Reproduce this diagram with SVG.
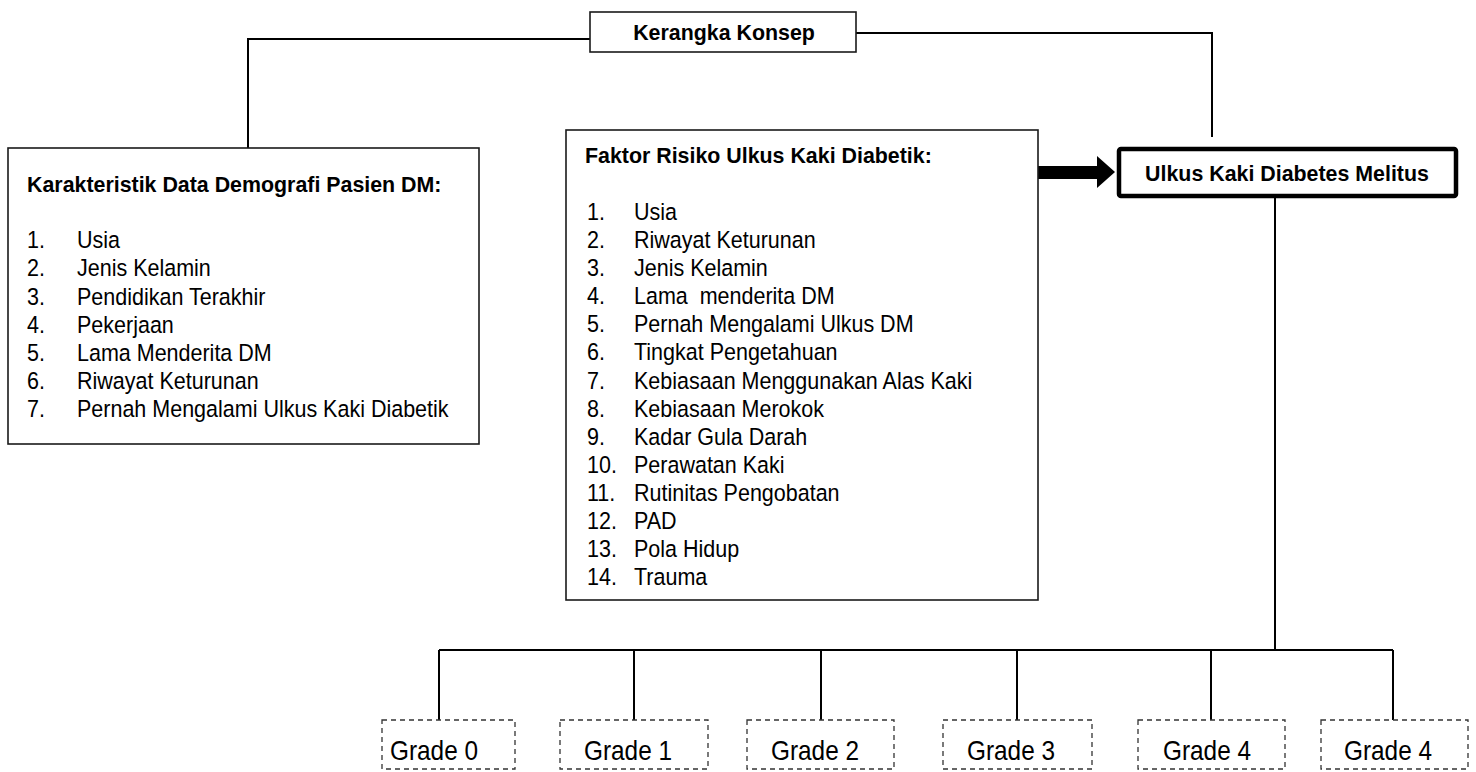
<svg xmlns="http://www.w3.org/2000/svg" width="1476" height="772" viewBox="0 0 1476 772">
<style>
text{font-family:"Liberation Sans",Arial,sans-serif;fill:#000}
.t{font-size:23px;font-weight:bold}
.i{font-size:23.5px}
.g{font-size:28px}
.box{fill:#fff;stroke:#1a1a1a;stroke-width:1.6}
.dash{fill:#fff;stroke:#333;stroke-width:1.3;stroke-dasharray:5 4}
.ln{fill:none;stroke:#000;stroke-width:2}
</style>
<rect width="1476" height="772" fill="#fff"/>
<g id="connectors">
<polyline class="ln" points="590,39 248,39 248,148"/>
<polyline class="ln" points="856,33 1212,33 1212,137"/>
<line class="ln" x1="1275" y1="198" x2="1275" y2="650"/>
<line class="ln" x1="439" y1="650" x2="1393" y2="650"/>
<line class="ln" x1="439" y1="650" x2="439" y2="720"/>
<line class="ln" x1="634" y1="650" x2="634" y2="720"/>
<line class="ln" x1="821" y1="650" x2="821" y2="720"/>
<line class="ln" x1="1017" y1="650" x2="1017" y2="720"/>
<line class="ln" x1="1211" y1="650" x2="1211" y2="720"/>
<line class="ln" x1="1393" y1="650" x2="1393" y2="720"/>
<polygon points="1038,166 1097,166 1097,156 1115,172 1097,188 1097,179 1038,179" fill="#000"/>
</g>
<g id="kerangka">
<rect class="box" x="590" y="12" width="266" height="40"/>
<text class="t" transform="translate(724,40) scale(0.93,1)" text-anchor="middle">Kerangka Konsep</text>
</g>
<g id="karakteristik">
<rect class="box" x="8" y="148" width="471" height="296"/>
<text class="t" transform="translate(27,192) scale(0.93,1)">Karakteristik Data Demografi Pasien DM:</text>
<g class="i">
<text transform="translate(27,248) scale(0.915,1)">1.</text><text transform="translate(77,248) scale(0.915,1)">Usia</text>
<text transform="translate(27,276) scale(0.915,1)">2.</text><text transform="translate(77,276) scale(0.915,1)">Jenis Kelamin</text>
<text transform="translate(27,305) scale(0.915,1)">3.</text><text transform="translate(77,305) scale(0.915,1)">Pendidikan Terakhir</text>
<text transform="translate(27,333) scale(0.915,1)">4.</text><text transform="translate(77,333) scale(0.915,1)">Pekerjaan</text>
<text transform="translate(27,361) scale(0.915,1)">5.</text><text transform="translate(77,361) scale(0.915,1)">Lama Menderita DM</text>
<text transform="translate(27,389) scale(0.915,1)">6.</text><text transform="translate(77,389) scale(0.915,1)">Riwayat Keturunan</text>
<text transform="translate(27,417) scale(0.915,1)">7.</text><text transform="translate(77,417) scale(0.915,1)">Pernah Mengalami Ulkus Kaki Diabetik</text>
</g>
</g>
<g id="faktor">
<rect class="box" x="566" y="130" width="472" height="470"/>
<text class="t" transform="translate(585,163) scale(0.93,1)">Faktor Risiko Ulkus Kaki Diabetik:</text>
<g class="i">
<text transform="translate(587,220) scale(0.915,1)">1.</text><text transform="translate(634,220) scale(0.915,1)">Usia</text>
<text transform="translate(587,248) scale(0.915,1)">2.</text><text transform="translate(634,248) scale(0.915,1)">Riwayat Keturunan</text>
<text transform="translate(587,276) scale(0.915,1)">3.</text><text transform="translate(634,276) scale(0.915,1)">Jenis Kelamin</text>
<text transform="translate(587,304) scale(0.915,1)">4.</text><text transform="translate(634,304) scale(0.915,1)" xml:space="preserve">Lama  menderita DM</text>
<text transform="translate(587,332) scale(0.915,1)">5.</text><text transform="translate(634,332) scale(0.915,1)">Pernah Mengalami Ulkus DM</text>
<text transform="translate(587,360) scale(0.915,1)">6.</text><text transform="translate(634,360) scale(0.915,1)">Tingkat Pengetahuan</text>
<text transform="translate(587,389) scale(0.915,1)">7.</text><text transform="translate(634,389) scale(0.915,1)">Kebiasaan Menggunakan Alas Kaki</text>
<text transform="translate(587,417) scale(0.915,1)">8.</text><text transform="translate(634,417) scale(0.915,1)">Kebiasaan Merokok</text>
<text transform="translate(587,445) scale(0.915,1)">9.</text><text transform="translate(634,445) scale(0.915,1)">Kadar Gula Darah</text>
<text transform="translate(587,473) scale(0.915,1)">10.</text><text transform="translate(634,473) scale(0.915,1)">Perawatan Kaki</text>
<text transform="translate(587,501) scale(0.915,1)">11.</text><text transform="translate(634,501) scale(0.915,1)">Rutinitas Pengobatan</text>
<text transform="translate(587,529) scale(0.915,1)">12.</text><text transform="translate(634,529) scale(0.915,1)">PAD</text>
<text transform="translate(587,557) scale(0.915,1)">13.</text><text transform="translate(634,557) scale(0.915,1)">Pola Hidup</text>
<text transform="translate(587,585) scale(0.915,1)">14.</text><text transform="translate(634,585) scale(0.915,1)">Trauma</text>
</g>
</g>
<g id="ulkus">
<rect x="1119" y="149" width="337" height="47" rx="2" fill="#fff" stroke="#000" stroke-width="4.5"/>
<text class="t" transform="translate(1287,181) scale(0.93,1)" text-anchor="middle">Ulkus Kaki Diabetes Melitus</text>
</g>
<g id="grade0"><rect class="dash" x="382" y="720" width="133" height="49"/><text class="g" transform="translate(434,760) scale(0.87,1)" text-anchor="middle">Grade 0</text></g>
<g id="grade1"><rect class="dash" x="560" y="720" width="148" height="49"/><text class="g" transform="translate(628,760) scale(0.87,1)" text-anchor="middle">Grade 1</text></g>
<g id="grade2"><rect class="dash" x="747" y="720" width="147" height="49"/><text class="g" transform="translate(815,760) scale(0.87,1)" text-anchor="middle">Grade 2</text></g>
<g id="grade3"><rect class="dash" x="943" y="720" width="149" height="49"/><text class="g" transform="translate(1011,760) scale(0.87,1)" text-anchor="middle">Grade 3</text></g>
<g id="grade4a"><rect class="dash" x="1138" y="720" width="147" height="49"/><text class="g" transform="translate(1207,760) scale(0.87,1)" text-anchor="middle">Grade 4</text></g>
<g id="grade4b"><rect class="dash" x="1321" y="720" width="147" height="49"/><text class="g" transform="translate(1388,760) scale(0.87,1)" text-anchor="middle">Grade 4</text></g>
</svg>
